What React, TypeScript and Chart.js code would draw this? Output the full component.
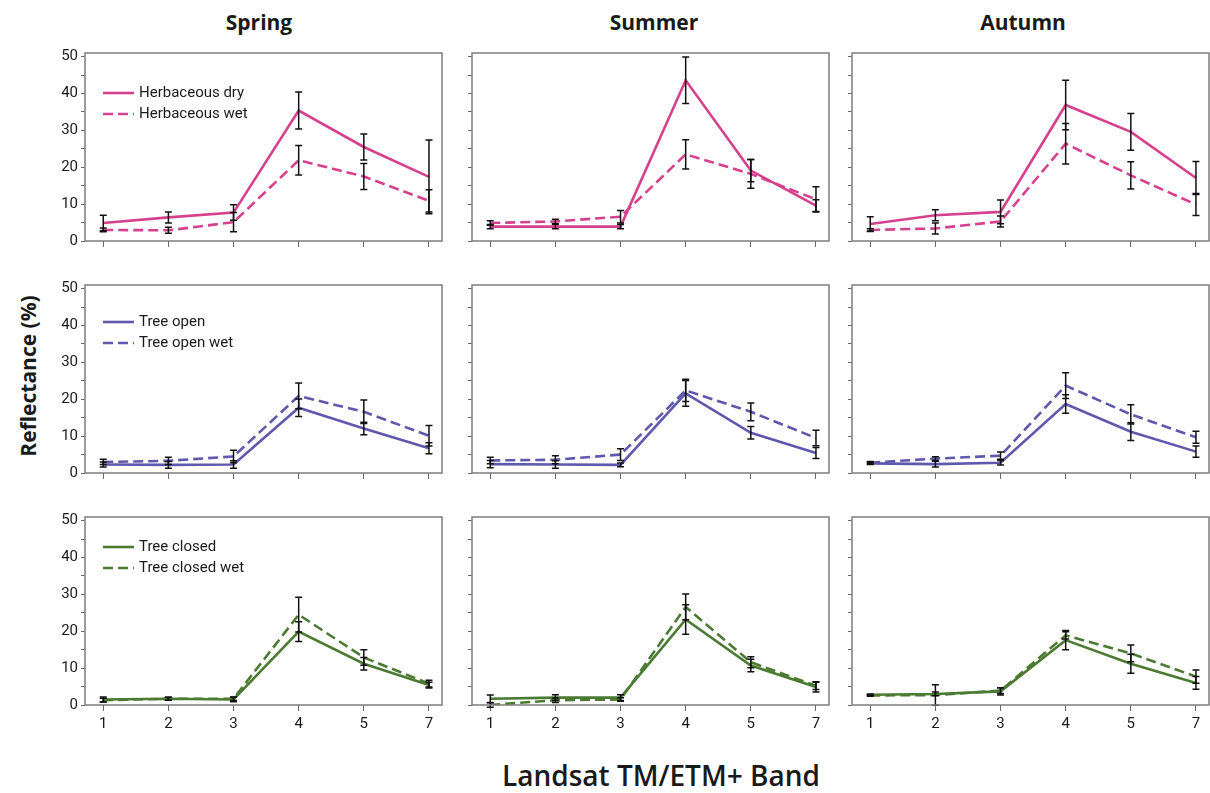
import React, { useEffect, useRef } from 'react';
import { Chart, registerables } from 'chart.js';

Chart.register(...registerables);

// ---------- data ----------
const seasons = ['Spring', 'Summer', 'Autumn'];
const bands = ['1', '2', '3', '4', '5', '7'];
const yTickValues = [0, 5, 10, 15, 20, 25, 30, 35, 40, 45, 50];
const yLabelStep = 10;

const herbLabels = ['Herbaceous dry', 'Herbaceous wet'];
const openLabels = ['Tree open', 'Tree open wet'];
const closedLabels = ['Tree closed', 'Tree closed wet'];

// Herbaceous
const herbDrySpring = [4.9, 6.4, 7.7, 35.4, 25.5, 17.4];
const herbDrySpringErr = [2.1, 1.5, 2.1, 5.0, 3.5, 10.0];
const herbWetSpring = [3.0, 2.9, 5.1, 21.9, 17.5, 10.9];
const herbWetSpringErr = [0.5, 0.8, 2.6, 4.0, 3.5, 3.0];

const herbDrySummer = [3.9, 3.9, 3.9, 43.6, 19.1, 9.6];
const herbDrySummerErr = [0.6, 0.6, 0.6, 6.3, 3.0, 1.6];
const herbWetSummer = [4.9, 5.3, 6.6, 23.5, 18.2, 11.3];
const herbWetSummerErr = [0.6, 0.6, 1.7, 4.0, 3.9, 3.4];

const herbDryAutumn = [4.6, 7.0, 7.9, 36.9, 29.6, 17.1];
const herbDryAutumnErr = [2.0, 1.5, 3.2, 6.7, 5.0, 4.5];
const herbWetAutumn = [3.0, 3.4, 5.3, 26.4, 17.8, 9.9];
const herbWetAutumnErr = [0.3, 1.5, 1.5, 5.5, 3.7, 3.0];

// Tree open
const openSpring = [2.3, 2.2, 2.3, 17.7, 12.1, 6.7];
const openSpringErr = [0.7, 0.9, 1.0, 2.4, 1.7, 1.5];
const openWetSpring = [3.0, 3.3, 4.5, 20.9, 16.6, 10.1];
const openWetSpringErr = [0.7, 1.0, 1.7, 3.5, 3.2, 2.8];

const openSummer = [2.4, 2.3, 2.2, 21.6, 10.9, 5.4];
const openSummerErr = [1.0, 1.0, 0.5, 3.5, 1.7, 1.5];
const openWetSummer = [3.4, 3.6, 5.0, 22.4, 16.6, 9.5];
const openWetSummerErr = [0.9, 1.1, 1.6, 3.0, 2.4, 2.1];

const openAutumn = [2.6, 2.4, 2.8, 18.7, 11.2, 5.8];
const openAutumnErr = [0.3, 0.8, 0.6, 2.5, 2.4, 1.5];
const openWetAutumn = [2.8, 3.9, 4.7, 23.7, 15.9, 9.7];
const openWetAutumnErr = [0.3, 0.5, 1.0, 3.5, 2.6, 1.6];

// Tree closed
const closedSpring = [1.5, 1.7, 1.5, 19.9, 11.2, 5.4];
const closedSpringErr = [0.7, 0.4, 0.6, 2.7, 1.7, 0.8];
const closedWetSpring = [1.3, 1.7, 1.7, 24.5, 12.9, 5.8];
const closedWetSpringErr = [0.5, 0.4, 0.5, 4.7, 2.1, 0.9];

const closedSummer = [1.7, 2.0, 2.0, 23.2, 10.7, 4.9];
const closedSummerErr = [1.0, 0.8, 0.8, 4.0, 1.7, 1.4];
const closedWetSummer = [0.0, 1.3, 1.5, 26.6, 11.6, 5.2];
const closedWetSummerErr = [0.6, 0.6, 0.5, 3.5, 1.5, 1.0];

const closedAutumn = [2.8, 3.0, 3.7, 17.6, 11.2, 6.0];
const closedAutumnErr = [0.2, 0.5, 1.0, 2.6, 2.6, 1.7];
const closedWetAutumn = [2.6, 2.7, 3.9, 18.9, 14.0, 7.7];
const closedWetAutumnErr = [0.2, 2.8, 0.8, 1.0, 2.3, 1.8];

// ---------- layout / style ----------
const rowColors = ['#d6418e', '#5f58ad', '#4b7a32'];
const rowLegendOffset = [40, 37, 30];
const BOX_LEFT = [85, 472, 852];
const BOX_TOP = [47, 279, 511];
const BOX_W = 357;
const BOX_H = 194;
const AX_W = 40;
const AX_H = 32;
const PAD_T = 6;
const PAD_R = 4;
const TITLE_X = [259, 654, 1023];

type Series = { label: string; values: number[]; errors: number[]; dashed: boolean };

const rows: { labels: string[]; panels: { solid: number[]; solidErr: number[]; wet: number[]; wetErr: number[] }[] }[] = [
  {
    labels: herbLabels,
    panels: [
      { solid: herbDrySpring, solidErr: herbDrySpringErr, wet: herbWetSpring, wetErr: herbWetSpringErr },
      { solid: herbDrySummer, solidErr: herbDrySummerErr, wet: herbWetSummer, wetErr: herbWetSummerErr },
      { solid: herbDryAutumn, solidErr: herbDryAutumnErr, wet: herbWetAutumn, wetErr: herbWetAutumnErr },
    ],
  },
  {
    labels: openLabels,
    panels: [
      { solid: openSpring, solidErr: openSpringErr, wet: openWetSpring, wetErr: openWetSpringErr },
      { solid: openSummer, solidErr: openSummerErr, wet: openWetSummer, wetErr: openWetSummerErr },
      { solid: openAutumn, solidErr: openAutumnErr, wet: openWetAutumn, wetErr: openWetAutumnErr },
    ],
  },
  {
    labels: closedLabels,
    panels: [
      { solid: closedSpring, solidErr: closedSpringErr, wet: closedWetSpring, wetErr: closedWetSpringErr },
      { solid: closedSummer, solidErr: closedSummerErr, wet: closedWetSummer, wetErr: closedWetSummerErr },
      { solid: closedAutumn, solidErr: closedAutumnErr, wet: closedWetAutumn, wetErr: closedWetAutumnErr },
    ],
  },
];

const DASH = [10, 5];

function Panel({ row, col }: { row: number; col: number }) {
  const ref = useRef<HTMLCanvasElement>(null);
  const width = AX_W + BOX_W + PAD_R;
  const height = PAD_T + BOX_H + AX_H;
  const left = BOX_LEFT[col] - AX_W;
  const top = BOX_TOP[row] - PAD_T;

  useEffect(() => {
    const r = rows[row];
    const p = r.panels[col];
    const color = rowColors[row];
    const series: Series[] = [
      { label: r.labels[0], values: p.solid, errors: p.solidErr, dashed: false },
      { label: r.labels[1], values: p.wet, errors: p.wetErr, dashed: true },
    ];
    const showX = row === 2;
    const showY = col === 0;
    const showLegend = col === 0;

    const errorPlugin = {
      id: 'errorBars',
      afterDatasetsDraw(chart: any) {
        const ctx = chart.ctx;
        const ys = chart.scales.y;
        ctx.save();
        ctx.strokeStyle = '#111';
        ctx.lineWidth = 1.5;
        series.forEach((s, i) => {
          const meta = chart.getDatasetMeta(i);
          s.errors.forEach((e, j) => {
            const x = meta.data[j].x;
            const v = s.values[j];
            const y1 = ys.getPixelForValue(v + e);
            const y2 = ys.getPixelForValue(v - e);
            ctx.beginPath();
            ctx.moveTo(x, y1);
            ctx.lineTo(x, y2);
            ctx.moveTo(x - 3.5, y1);
            ctx.lineTo(x + 3.5, y1);
            ctx.moveTo(x - 3.5, y2);
            ctx.lineTo(x + 3.5, y2);
            ctx.stroke();
          });
        });
        ctx.restore();
      },
    };

    const boxPlugin = {
      id: 'panelBox',
      afterDraw(chart: any) {
        const { ctx, chartArea: a } = chart;
        ctx.save();
        ctx.strokeStyle = '#7d7d7d';
        ctx.lineWidth = 1.5;
        ctx.strokeRect(a.left, a.top, a.right - a.left, a.bottom - a.top);
        ctx.restore();
      },
    };

    const legendPlugin = {
      id: 'panelLegend',
      afterDraw(chart: any) {
        if (!showLegend) return;
        const { ctx, chartArea: a } = chart;
        ctx.save();
        series.forEach((s, i) => {
          const y = a.top + rowLegendOffset[row] + i * 21;
          ctx.strokeStyle = color;
          ctx.lineWidth = 2.6;
          ctx.setLineDash(s.dashed ? DASH : []);
          ctx.beginPath();
          ctx.moveTo(a.left + 18, y);
          ctx.lineTo(a.left + 49, y);
          ctx.stroke();
          ctx.setLineDash([]);
          ctx.fillStyle = '#1a1a1a';
          ctx.font = '15px Roboto';
          ctx.textBaseline = 'middle';
          ctx.fillText(s.label, a.left + 54, y);
        });
        ctx.restore();
      },
    };

    const chart = new Chart(ref.current as HTMLCanvasElement, {
      type: 'line',
      data: {
        datasets: series.map((s) => ({
          label: s.label,
          data: s.values.map((y, i) => ({ x: i, y })),
          borderColor: color,
          backgroundColor: color,
          borderWidth: 2.6,
          borderDash: s.dashed ? DASH : [],
          pointRadius: 0,
          fill: false,
          tension: 0,
        })),
      },
      options: {
        animation: false,
        responsive: false,
        events: [],
        layout: { padding: { top: PAD_T, right: PAD_R, left: 0, bottom: 0 } },
        plugins: { legend: { display: false }, tooltip: { enabled: false } },
        scales: {
          x: {
            type: 'linear',
            min: -0.28,
            max: 5.2,
            afterBuildTicks: (s: any) => {
              s.ticks = bands.map((_, i) => ({ value: i }));
            },
            afterFit: (s: any) => {
              s.height = AX_H;
            },
            grid: { drawOnChartArea: false, drawTicks: true, tickLength: 6, color: '#666', lineWidth: 1 },
            border: { display: false },
            ticks: {
              autoSkip: false,
              maxRotation: 0,
              padding: 4,
              color: '#1a1a1a',
              font: { family: 'Roboto', size: 15 },
              callback: (v: any) => (showX ? bands[Math.round(v)] : ''),
            },
          },
          y: {
            type: 'linear',
            min: 0,
            max: 51,
            afterBuildTicks: (s: any) => {
              s.ticks = yTickValues.map((v) => ({ value: v }));
            },
            afterFit: (s: any) => {
              s.width = AX_W;
            },
            grid: { drawOnChartArea: false, drawTicks: true, tickLength: 4, color: '#666', lineWidth: 1 },
            border: { display: false },
            ticks: {
              autoSkip: false,
              padding: 3,
              color: '#1a1a1a',
              font: { family: 'Roboto', size: 15 },
              callback: (v: any) => (showY && v % yLabelStep === 0 ? String(v) : ''),
            },
          },
        },
      } as any,
      plugins: [errorPlugin, boxPlugin, legendPlugin],
    });
    return () => chart.destroy();
  }, [row, col]);

  return (
    <canvas
      ref={ref}
      width={width}
      height={height}
      style={{ position: 'absolute', left, top, width, height }}
    />
  );
}

export default function App() {
  const panels = [];
  for (let r = 0; r < 3; r++) for (let c = 0; c < 3; c++) panels.push(<Panel key={`${r}-${c}`} row={r} col={c} />);
  return (
    <div
      style={{
        position: 'fixed',
        left: 0,
        top: 0,
        width: 1210,
        height: 793,
        background: '#fff',
        overflow: 'hidden',
        fontFamily: '"Open Sans", sans-serif',
        color: '#1a1a1a',
      }}
    >
      {seasons.map((s, i) => (
        <div
          key={s}
          style={{
            position: 'absolute',
            left: TITLE_X[i] - 100,
            width: 200,
            top: 8,
            height: 28,
            lineHeight: '28px',
            textAlign: 'center',
            fontWeight: 700,
            fontSize: 21,
          }}
        >
          {s}
        </div>
      ))}
      <div
        style={{
          position: 'absolute',
          left: 28 - 150,
          top: 376 - 15,
          width: 300,
          height: 30,
          lineHeight: '30px',
          textAlign: 'center',
          fontWeight: 700,
          fontSize: 21,
          transform: 'rotate(-90deg)',
        }}
      >
        Reflectance (%)
      </div>
      <div
        style={{
          position: 'absolute',
          left: 461,
          width: 400,
          top: 756,
          height: 38,
          lineHeight: '38px',
          textAlign: 'center',
          fontWeight: 600,
          fontSize: 28,
        }}
      >
        Landsat TM/ETM+ Band
      </div>
      {panels}
    </div>
  );
}
